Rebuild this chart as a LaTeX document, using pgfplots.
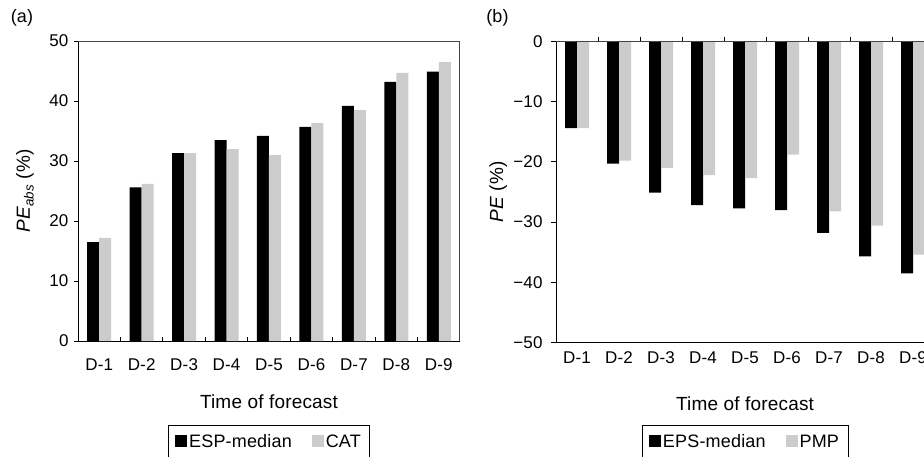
\documentclass[border=0pt]{standalone}
\usepackage{fontspec}
\setmainfont[LetterSpace=1]{Liberation Sans}
\usepackage{pgfplots}
\pgfplotsset{compat=1.18}
\definecolor{barg}{HTML}{CCCCCC}
\definecolor{frameg}{HTML}{444444}

\begin{document}
\begin{tikzpicture}[x=1pt,y=1pt]
\pgfplotsset{
  common/.style={
    scale only axis,
    xmin=0.5, xmax=9.5,
    xtick={1,2,3,4,5,6,7,8,9},
    xticklabels={D-1,D-2,D-3,D-4,D-5,D-6,D-7,D-8,D-9},
    minor xtick={1.5,2.5,3.5,4.5,5.5,6.5,7.5,8.5},
    major x tick style={draw=none},
    tick align=outside,
    ytick pos=left,
    tick style={black, line width=0.9pt},
    axis line style={black, line width=1pt},
    /pgf/number format/assume math mode=true,
    ticklabel style={font=\fontsize{17}{20}\selectfont},
    label style={font=\fontsize{19}{22}\selectfont},
    legend style={font=\fontsize{18}{21}\selectfont, draw=black, line width=0.9pt,
      legend columns=2, anchor=north,
      inner xsep=7pt, inner ysep=7pt,
      /tikz/every even column/.append style={column sep=18pt}},
    clip=false,
  }
}

% ---------- panel (a) ----------
\begin{axis}[common, name=A,
  at={(78pt,115pt)}, anchor=south west,
  width=382pt, height=300pt,
  ymin=0, ymax=50,
  ytick={0,10,20,30,40,50},
  yticklabels={0,10,20,30,40,50},
  major tick length=4pt, minor tick length=4pt,
  xtick pos=left,
  minor x tick style={yshift=4pt},
  xticklabel style={yshift=-10pt},
  yticklabel style={xshift=-2pt},
  xlabel={Time of forecast},
  xlabel style={at={(axis description cs:0.5,0)}, anchor=center, yshift=-61pt},
  ylabel={\textit{PE}\textsubscript{\textit{abs}} (\%)},
  ylabel style={at={(axis description cs:-0.1387,0.5)}, anchor=center},
  legend style={at={(axis description cs:0.5,-0.28)}},
]
\addplot[ybar, fill=black, draw=none, bar width=12pt, bar shift=-6pt,
  legend image code/.code={\fill[black] (0pt,-5.5pt) rectangle (12pt,6.5pt);}]
  coordinates {(1,16.5) (2,25.6) (3,31.3) (4,33.5) (5,34.2) (6,35.7) (7,39.2) (8,43.2) (9,44.9)};
\addlegendentry{ESP-median}
\addplot[ybar, fill=barg, draw=none, bar width=12pt, bar shift=6pt,
  legend image code/.code={\fill[barg] (0pt,-5.5pt) rectangle (12pt,6.5pt);}]
  coordinates {(1,17.2) (2,26.2) (3,31.3) (4,32.0) (5,31.0) (6,36.3) (7,38.5) (8,44.7) (9,46.5)};
\addlegendentry{CAT}
\end{axis}
\draw[frameg, line width=1pt] (A.north west) -- (A.north east) -- (A.south east);

% ---------- panel (b) ----------
\begin{axis}[common, name=B,
  at={(556pt,113.5pt)}, anchor=south west,
  width=378pt, height=301pt,
  ymin=-50, ymax=0,
  ytick={-50,-40,-30,-20,-10,0},
  yticklabels={−50,−40,−30,−20,−10,0},
  major tick length=5pt, minor tick length=5pt,
  xtick pos=right, xticklabel pos=left,
  xticklabel style={yshift=-1pt},
  yticklabel style={xshift=-5pt},
  xlabel={Time of forecast},
  xlabel style={at={(axis description cs:0.5,0)}, anchor=center, yshift=-61.5pt},
  ylabel={\textit{PE} (\%)},
  ylabel style={at={(axis description cs:-0.1526,0.5)}, anchor=center},
  legend style={at={(axis description cs:0.5,-0.274)}},
]
\addplot[ybar, fill=black, draw=none, bar width=12pt, bar shift=-6pt,
  legend image code/.code={\fill[black] (0pt,-5.5pt) rectangle (12pt,6.5pt);}]
  coordinates {(1,-14.4) (2,-20.3) (3,-25.1) (4,-27.2) (5,-27.7) (6,-28.0) (7,-31.8) (8,-35.7) (9,-38.5)};
\addlegendentry{EPS-median}
\addplot[ybar, fill=barg, draw=none, bar width=12pt, bar shift=6pt,
  legend image code/.code={\fill[barg] (0pt,-5.5pt) rectangle (12pt,6.5pt);}]
  coordinates {(1,-14.4) (2,-19.8) (3,-21.0) (4,-22.2) (5,-22.7) (6,-18.8) (7,-28.2) (8,-30.6) (9,-35.4)};
\addlegendentry{PMP}
\end{axis}
\draw[frameg, line width=1pt] (B.north west) -- (B.north east);

\node[font=\fontsize{18}{21}\selectfont] at (22pt,438pt) {(a)};
\node[font=\fontsize{18}{21}\selectfont] at (497.5pt,438pt) {(b)};

\pgfresetboundingbox
\path[use as bounding box] (0pt,0pt) rectangle (924pt,456pt);
\end{tikzpicture}
\end{document}
